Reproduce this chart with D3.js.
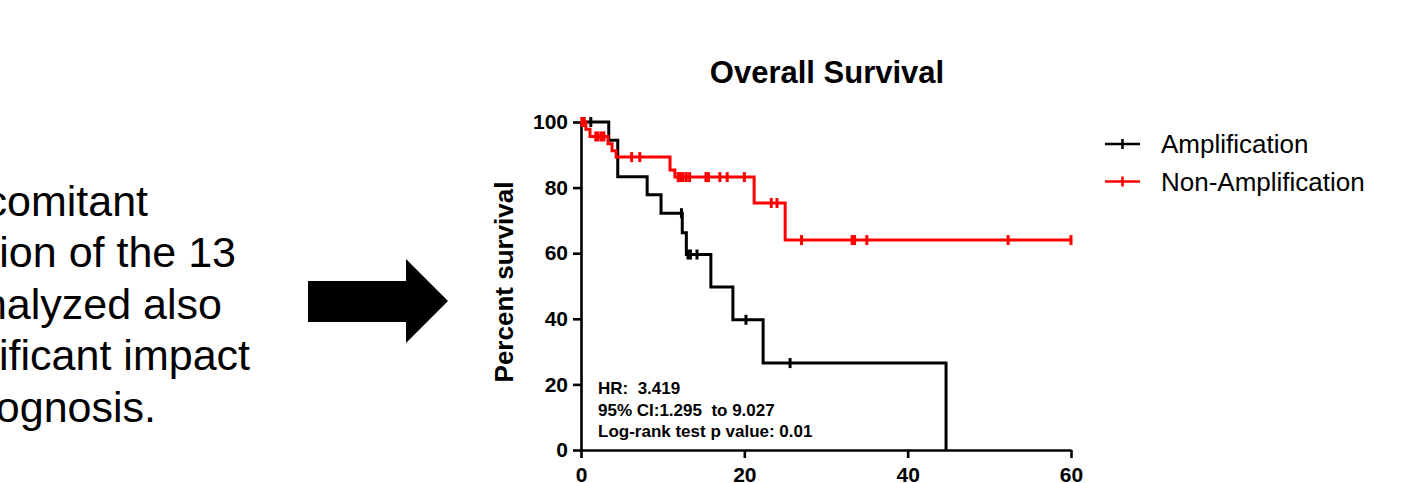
<!DOCTYPE html>
<html>
<head>
<meta charset="utf-8">
<script src="https://cdnjs.cloudflare.com/ajax/libs/d3/7.8.5/d3.min.js"></script>
<style>
body{margin:0;background:#fff;overflow:hidden}
svg{display:block;font-family:"Liberation Sans",Arial,sans-serif}
</style>
</head>
<body>
<div id="chart"></div>
<script>
// Kaplan-Meier steps (months, percent)
var ampTimes = [0, 3.4, 4.5, 8.1, 9.8, 12.4, 12.9, 15.9, 18.6, 22.3, 44.7]
var ampSurv = [100, 94.4, 83.3, 77.8, 72.2, 66.2, 59.6, 49.7, 39.7, 26.5, 0]
var ampCensor = [1.2, 12.3, 13.1, 13.4, 14.2, 20.2, 25.6]

var nonTimes = [0, 0.6, 1.1, 3.3, 3.8, 4.3, 10.9, 11.5, 21.2, 25.0, 60]
var nonSurv = [100, 97.8, 95.6, 93.4, 91.2, 89.3, 85.4, 83.2, 75.3, 64.0, 64.0]
var nonCensor = [0.1, 0.4, 1.8, 2.1, 2.5, 2.8, 6.2, 7.2, 11.9, 12.2, 12.5, 12.9, 13.3,
                 15.3, 15.6, 17.0, 17.9, 20.0, 23.3, 24.0, 27.0, 33.2, 33.5, 35.0, 52.3, 60]

var seriesNames = ["Amplification", "Non-Amplification"]
var seriesColors = ["#000000", "#ff0000"]
var xTicks = [0, 20, 40, 60]
var yTicks = [0, 20, 40, 60, 80, 100]
var statLines = ["HR:  3.419", "95% CI:1.295  to 9.027", "Log-rank test p value: 0.01"]
var sideText = ["comitant", "ion of the 13", "nalyzed also", "ificant impact", "ognosis."]

var width = 1402
var height = 483

var svg = d3.select("#chart").append("svg")
	.attr("width", width)
	.attr("height", height)

// slide text on the left, cut by the page edge
svg.selectAll(".side")
	.data(sideText)
	.enter()
	.append("text")
	.attr("class", "side")
	.attr("x", function(d, i){ return [148, 236, 222, 250, 156][i] })
	.attr("y", function(d, i){ return 216 + i * 51.4 })
	.attr("text-anchor", "end")
	.attr("font-size", 43)
	.attr("fill", "#000")
	.text(function(d){ return d })

// block arrow
svg.append("path")
	.attr("d", "M308,281 L406,281 L406,259 L448,301 L406,343 L406,322 L308,322 Z")
	.attr("fill", "#000")

var xScale = d3.scaleLinear().domain([0, 60]).range([581, 1071])
var yScale = d3.scaleLinear().domain([0, 100]).range([450, 122])

var xAxis = d3.axisBottom(xScale).tickValues(xTicks).tickSize(8).tickSizeOuter(0).tickPadding(9)
var yAxis = d3.axisLeft(yScale).tickValues(yTicks).tickSize(8).tickSizeOuter(0).tickPadding(5)

var xG = svg.append("g").attr("transform", "translate(0," + yScale(0) + ")").call(xAxis)
var yG = svg.append("g").attr("transform", "translate(" + xScale(0) + ",0)").call(yAxis)

;[xG, yG].forEach(function(g){
	g.select(".domain").attr("stroke", "#000").attr("stroke-width", 2.6)
	g.selectAll(".tick line").attr("stroke", "#000").attr("stroke-width", 2.6)
	g.selectAll(".tick text")
		.attr("fill", "#000")
		.attr("font-size", 21)
		.attr("font-weight", "bold")
		.attr("font-family", "Liberation Sans, Arial, sans-serif")
})

svg.append("text")
	.text("Overall Survival")
	.attr("x", 827).attr("y", 83)
	.attr("text-anchor", "middle")
	.attr("font-size", 31)
	.attr("font-weight", "bold")

svg.append("text")
	.text("Percent survival")
	.attr("transform", "translate(513,282) rotate(-90)")
	.attr("text-anchor", "middle")
	.attr("font-size", 26)
	.attr("font-weight", "bold")

function stepAt(times, surv, t){
	var v = surv[0]
	for(var i in times){
		if(times[i] <= t){ v = surv[i] }
	}
	return v
}

var line = d3.line()
	.x(function(d){ return xScale(d[0]) })
	.y(function(d){ return yScale(d[1]) })
	.curve(d3.curveStepAfter)

var series = [
	{times: ampTimes, surv: ampSurv, censor: ampCensor},
	{times: nonTimes, surv: nonSurv, censor: nonCensor}
]

series.forEach(function(s, k){
	var pts = s.times.map(function(t, i){ return [t, s.surv[i]] })
	var g = svg.append("g")
	g.append("path")
		.attr("d", line(pts))
		.attr("fill", "none")
		.attr("stroke", seriesColors[k])
		.attr("stroke-width", 3)
	g.selectAll(".cens")
		.data(s.censor)
		.enter()
		.append("line")
		.attr("x1", function(d){ return xScale(d) })
		.attr("x2", function(d){ return xScale(d) })
		.attr("y1", function(d){ return yScale(stepAt(s.times, s.surv, d)) - 5 })
		.attr("y2", function(d){ return yScale(stepAt(s.times, s.surv, d)) + 5 })
		.attr("stroke", seriesColors[k])
		.attr("stroke-width", 3)
})

// stats box
svg.selectAll(".stat")
	.data(statLines)
	.enter()
	.append("text")
	.attr("class", "stat")
	.attr("x", 598)
	.attr("y", function(d, i){ return 394 + i * 21.6 })
	.attr("font-size", 17)
	.attr("font-weight", "bold")
	.attr("fill", "#000")
	.style("white-space", "pre")
	.text(function(d){ return d })

// legend
var legend = svg.selectAll(".leg")
	.data(seriesNames)
	.enter()
	.append("g")
	.attr("transform", function(d, i){ return "translate(1105," + (144 + i * 37.5) + ")" })

legend.append("line")
	.attr("x1", 0).attr("x2", 35)
	.attr("stroke", function(d, i){ return seriesColors[i] })
	.attr("stroke-width", 2.6)
legend.append("line")
	.attr("x1", 17.5).attr("x2", 17.5).attr("y1", -5).attr("y2", 5)
	.attr("stroke", function(d, i){ return seriesColors[i] })
	.attr("stroke-width", 2.6)
legend.append("text")
	.attr("x", 56).attr("y", 9)
	.attr("font-size", 26)
	.attr("fill", "#000")
	.text(function(d){ return d })
</script>
</body>
</html>
